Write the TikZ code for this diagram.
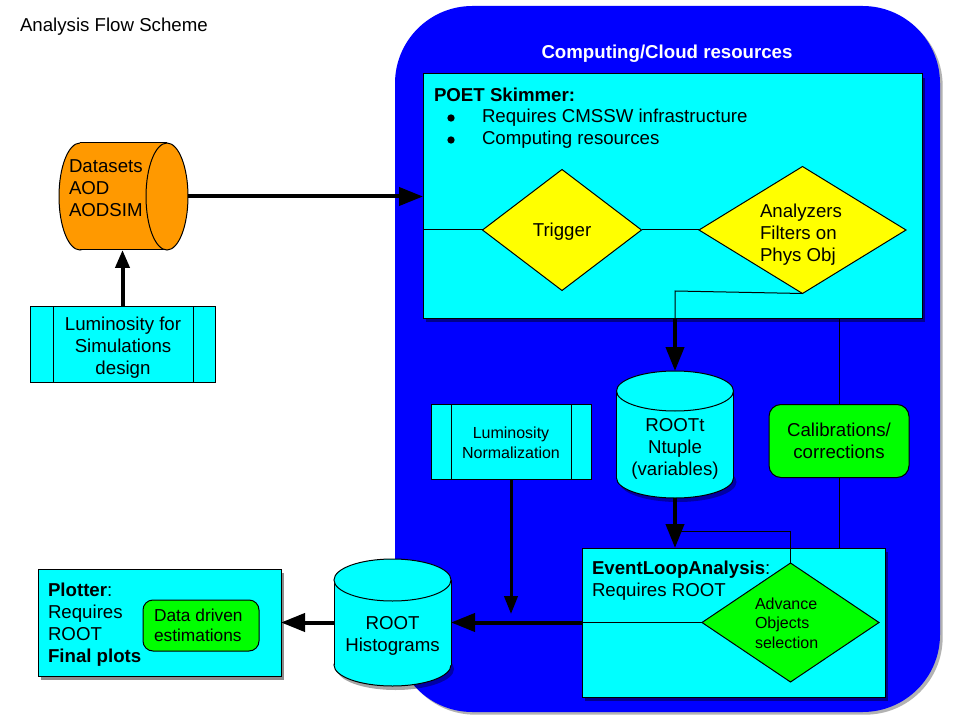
\documentclass[tikz,border=0pt]{standalone}
\usepackage{fontspec}
\setmainfont{Liberation Sans}
\usetikzlibrary{arrows.meta,shapes.geometric,shadows,calc}
\definecolor{cyanC}{RGB}{0,255,255}
\definecolor{orangeC}{RGB}{255,153,0}
\definecolor{yellowC}{RGB}{255,255,0}
\definecolor{greenC}{RGB}{0,255,0}
\definecolor{blueC}{RGB}{0,0,255}
\begin{document}
\begin{tikzpicture}[x=0.75pt,y=-0.75pt,
  every node/.style={font=\fontsize{14}{16.5}\selectfont, inner sep=0pt, outer sep=0pt},
  box/.style={draw=black, line width=0.75pt, fill=cyanC},
  shade/.style={drop shadow={shadow xshift=2pt,shadow yshift=-3pt,opacity=0.45,fill=black}},
  conn/.style={line width=0.75pt},
  thickarrow/.style={line width=3pt, -{Triangle[length=18pt,width=13.5pt]}},
  smallarrow/.style={line width=3pt, -{Triangle[length=13.5pt,width=10.5pt]}},
  medarrow/.style={line width=2.25pt, -{Triangle[length=13.5pt,width=10pt]}},
  greenbox/.style={draw=black, line width=0.75pt, fill=greenC},
  smallfont/.style={font=\fontsize{12}{14.6}\selectfont},
  bulletdot/.style={circle, fill=black, minimum size=5.5pt}
]
\useasboundingbox (0,0) rectangle (960,720);

% title
\node[anchor=base west] (title) at (20,32) {Analysis Flow Scheme};

% cloud
\node[fill=blueC, rounded corners=58pt, minimum width=408.75pt, minimum height=529.5pt,
  drop shadow={shadow xshift=2pt,shadow yshift=-2pt,opacity=0.3,fill=black}] (cloud) at (667.5,359) {};
\node[anchor=base, text=white, font=\fontsize{14}{16.5}\selectfont\bfseries] (cloudtitle) at (667,59) {Computing/Cloud resources};

% datasets cylinder (horizontal)
\node[minimum width=96.75pt, minimum height=80.25pt] (datasets) at (123.5,196.5) {};
\draw[conn, fill=orangeC] (80,196.5) ellipse [x radius=15.75pt, y radius=40.125pt];
\fill[orangeC] (80,143) rectangle (167,250);
\draw[conn] (80,143) -- (167,143) (80,250) -- (167,250);
\draw[conn, fill=orangeC] (167,196.5) ellipse [x radius=15.75pt, y radius=40.125pt];
\node[anchor=west, align=left] (datasetstext) at (69,188) {Datasets\\AOD\\AODSIM};

% luminosity for simulations
\node[box, minimum width=138.75pt, minimum height=56.25pt] (lumisim) at (122.5,344.5) {};
\draw[conn] ($(lumisim.north west)+(17.25pt,0)$) -- ($(lumisim.south west)+(17.25pt,0)$);
\draw[conn] ($(lumisim.north east)+(-16.5pt,0)$) -- ($(lumisim.south east)+(-16.5pt,0)$);
\node[align=center] (lumisimtext) at (123,347.5) {Luminosity for\\Simulations\\design};

% POET skimmer
\node[box, shade, minimum width=374.25pt, minimum height=183pt] (poet) at (672.5,196) {};
\node[anchor=base west, font=\fontsize{14}{16.5}\selectfont\bfseries] (poettitle) at (434,102) {POET Skimmer:};
\node[bulletdot] (bul1) at (451,118) {};
\node[anchor=base west] (req1) at (482,123) {Requires CMSSW infrastructure};
\node[bulletdot] (bul2) at (451,140) {};
\node[anchor=base west] (req2) at (482,145) {Computing resources};
\node[diamond, draw=black, line width=0.75pt, fill=yellowC, aspect=1.31,
  minimum width=119.25pt, minimum height=90.75pt] (trigger) at (562,230) {};
\node[anchor=base] (triggertext) at (562,237) {Trigger};
\node[diamond, draw=black, line width=0.75pt, fill=yellowC, aspect=1.63,
  minimum width=155.25pt, minimum height=95.25pt] (analyzers) at (802.5,230) {};
\node[anchor=west, align=left] (analyzerstext) at (760,234.5) {Analyzers\\Filters on\\Phys Obj};
\draw[conn] (poet.west |- trigger.west) -- (trigger.west);
\draw[conn] (trigger.east) -- (analyzers.west);
\coordinate (skimout) at (675,291);
\draw[conn] (analyzers.south) -- (skimout) -- (skimout |- poet.south);

% ROOTt cylinder
\node[minimum width=87.75pt, minimum height=95.25pt] (roott) at (675,434.5) {};
\fill[black, opacity=0.35] (678,482) ellipse [x radius=43.875pt, y radius=15pt];
\draw[conn, fill=cyanC] (675,478) ellipse [x radius=43.875pt, y radius=15pt];
\fill[cyanC] (616.5,391) rectangle (733.5,478);
\draw[conn] (616.5,391) -- (616.5,478) (733.5,391) -- (733.5,478);
\draw[conn, fill=cyanC] (675,391) ellipse [x radius=43.875pt, y radius=15pt];
\node[align=center] (roottext) at (675,448.5) {ROOTt\\Ntuple\\(variables)};

% calibrations
\node[greenbox, rounded corners=9pt, minimum width=105pt, minimum height=54.75pt, align=center] (calib) at (839,441) {Calibrations/\\corrections};

% luminosity normalization
\node[box, minimum width=120pt, minimum height=56.25pt] (lumin) at (511,441.5) {};
\draw[conn] ($(lumin.north west)+(15pt,0)$) -- ($(lumin.south west)+(15pt,0)$);
\draw[conn] ($(lumin.north east)+(-15pt,0)$) -- ($(lumin.south east)+(-15pt,0)$);
\node[smallfont, align=center] (lumintext) at (511,443) {Luminosity\\Normalization};

% EventLoop
\node[box, shade, minimum width=227.25pt, minimum height=111.75pt] (eventloop) at (733.5,622.5) {};
\node[anchor=base west] (eltitle) at (592,574) {\textbf{EventLoopAnalysis}:};
\node[anchor=base west] (elreq) at (592,596) {Requires ROOT};
\node[diamond, draw=black, line width=0.75pt, fill=greenC, aspect=1.49,
  minimum width=132.75pt, minimum height=89.25pt] (advance) at (790.5,622.5) {};
\node[smallfont, anchor=west, align=left] (advancetext) at (755,623) {Advance\\Objects\\selection};

% ROOT histograms cylinder
\node[minimum width=87.75pt, minimum height=95.25pt] (hist) at (392.5,622.5) {};
\fill[black, opacity=0.35] (395.5,669) ellipse [x radius=43.875pt, y radius=15.75pt];
\draw[conn, fill=cyanC] (392.5,665) ellipse [x radius=43.875pt, y radius=15.75pt];
\fill[cyanC] (334,580) rectangle (451,665);
\draw[conn] (334,580) -- (334,665) (451,580) -- (451,665);
\draw[conn, fill=cyanC] (392.5,580) ellipse [x radius=43.875pt, y radius=15.75pt];
\node[align=center] (histtext) at (392.5,636) {ROOT\\Histograms};

% Plotter
\node[box, shade, minimum width=182.25pt, minimum height=80.25pt] (plotter) at (159.5,622.5) {};
\node[anchor=west, align=left] (plottertext) at (48,625) {\textbf{Plotter}:\\Requires\\ROOT\\\textbf{Final plots}};
\node[greenbox, rounded corners=7.5pt, minimum width=87pt, minimum height=38.25pt] (datadriven) at (201,625.5) {};
\node[anchor=west, align=left, font=\fontsize{13}{15}\selectfont] (ddtext) at (154,625.5) {Data driven\\estimations};

% connectors
\draw[thickarrow] (datasets.east) -- (datasets.east -| poet.west);
\draw[smallarrow] (lumisim.north) -- (lumisim.north |- datasets.south);
\draw[thickarrow] (skimout |- poet.south) -- (skimout |- roott.north);
\draw[conn] (calib.north |- poet.south) -- (calib.north);
\draw[conn] (calib.south) -- (calib.south |- eventloop.north);
\coordinate (advtap) at (680,531);
\draw[conn] (advtap) -- (advtap -| advance.north) -- (advance.north);
\draw[thickarrow] (roott.south) -- (roott.south |- eventloop.north);
\draw[conn] (advance.west) -- (advance.west -| eventloop.west);
\draw[thickarrow] (advance.west -| eventloop.west) -- (advance.west -| hist.east);
\coordinate (lumitip) at (511,614);
\draw[medarrow] (lumitip |- lumin.south) -- (lumitip);
\draw[thickarrow] (hist.west) -- (hist.west -| plotter.east);
\end{tikzpicture}
\end{document}
